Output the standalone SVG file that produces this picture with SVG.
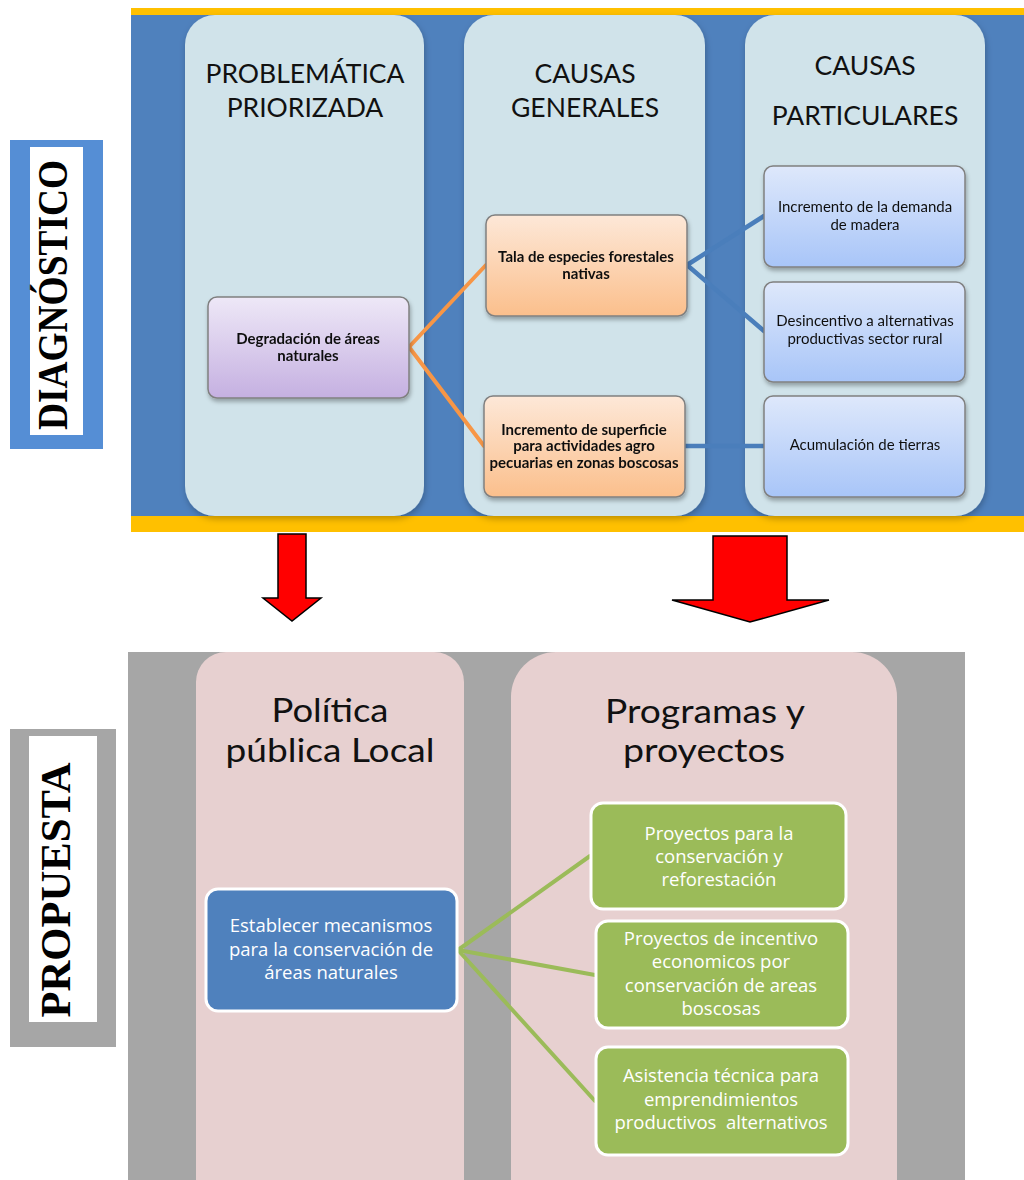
<svg xmlns="http://www.w3.org/2000/svg" width="1024" height="1180" viewBox="0 0 1024 1180">
<defs>
<linearGradient id="gPurple" x1="0" y1="0" x2="0" y2="1"><stop offset="0" stop-color="#EEE8F7"/><stop offset="1" stop-color="#C5B0E1"/></linearGradient>
<linearGradient id="gOrange" x1="0" y1="0" x2="0" y2="1"><stop offset="0" stop-color="#FDE8D8"/><stop offset="1" stop-color="#FBBF8C"/></linearGradient>
<linearGradient id="gBlue" x1="0" y1="0" x2="0" y2="1"><stop offset="0" stop-color="#DEE8FB"/><stop offset="1" stop-color="#A8C5F8"/></linearGradient>
<filter id="sh" x="-10%" y="-10%" width="125%" height="130%"><feDropShadow dx="1" dy="3" stdDeviation="2" flood-color="#000" flood-opacity="0.3"/></filter>
<filter id="shc" x="-10%" y="-5%" width="125%" height="115%"><feDropShadow dx="1" dy="3" stdDeviation="3" flood-color="#000" flood-opacity="0.25"/></filter>
</defs>
<style>
.col{fill:#D0E3EA}
.pcol{fill:#E7D0D0}
.title{font-family:Lato,"Liberation Sans",sans-serif;font-size:26.5px;fill:#111;text-anchor:middle}
.btitle{font-family:Lato,"Liberation Sans",sans-serif;font-size:33px;fill:#111;text-anchor:middle}
.nb{font-family:Lato,"Liberation Sans",sans-serif;font-size:15px;font-weight:bold;fill:#111;text-anchor:middle}
.nr{font-family:Lato,"Liberation Sans",sans-serif;font-size:15px;fill:#111;text-anchor:middle}
.nw{font-family:"Open Sans","Noto Sans",sans-serif;font-size:18.5px;fill:#fff;text-anchor:middle}
.box{stroke:#808080;stroke-width:1.5}
.gbox{fill:#9BBB59;stroke:#fff;stroke-width:3}
.side{font-family:"Liberation Serif","Times New Roman",serif;font-weight:bold;font-size:42px;fill:#000;text-anchor:middle}
.arrow{fill:#FF0000;stroke:#000;stroke-width:1.5}
</style>

<!-- Top panel background -->
<rect x="131" y="8" width="893" height="524" fill="#FFC000"/>
<rect x="131" y="15" width="893" height="501" fill="#4F81BD"/>
<rect class="col" x="185" y="15" width="239" height="501" rx="30" filter="url(#shc)"/>
<rect class="col" x="464" y="15" width="241" height="501" rx="30" filter="url(#shc)"/>
<rect class="col" x="745" y="15" width="240" height="501" rx="30" filter="url(#shc)"/>
<text class="title" x="305" y="83">PROBLEMÁTICA</text>
<text class="title" x="305" y="117">PRIORIZADA</text>
<text class="title" x="585" y="83">CAUSAS</text>
<text class="title" x="585" y="117">GENERALES</text>
<text class="title" x="865" y="75">CAUSAS</text>
<text class="title" x="865" y="125">PARTICULARES</text>

<!-- Side labels -->
<g id="label-diagnostico">
<rect x="10" y="140" width="93" height="309" fill="#558ED5"/>
<rect x="30" y="147" width="53" height="288" fill="#fff"/>
<text class="side" transform="translate(67,295) rotate(-90)" textLength="270" lengthAdjust="spacingAndGlyphs">DIAGNÓSTICO</text>
</g>
<g id="label-propuesta">
<rect x="10" y="729" width="106" height="318" fill="#A6A6A6"/>
<rect x="29" y="736" width="68" height="286" fill="#fff"/>
<text class="side" transform="translate(70,890) rotate(-90)" textLength="255" lengthAdjust="spacingAndGlyphs">PROPUESTA</text>
</g>

<!-- Red arrows -->
<g id="arrow-left"><polygon class="arrow" points="278,534 306,534 306,598 321,598 292,621 263,598 278,598"/></g>
<g id="arrow-right"><polygon class="arrow" points="713,536 787,536 787,600 829,600 750,622 672,600 713,600"/></g>

<!-- Bottom panel background -->
<rect x="128" y="652" width="837" height="528" fill="#A6A6A6"/>
<path class="pcol" d="M196,1180 V682 a30,30 0 0 1 30,-30 H434 a30,30 0 0 1 30,30 V1180 Z"/>
<path class="pcol" d="M511,1180 V697 a45,45 0 0 1 45,-45 H852 a45,45 0 0 1 45,45 V1180 Z"/>
<text class="btitle" x="330" y="722" textLength="117" lengthAdjust="spacingAndGlyphs">Política</text>
<text class="btitle" x="330" y="762" textLength="209" lengthAdjust="spacingAndGlyphs">pública Local</text>
<text class="btitle" x="705" y="723" textLength="200" lengthAdjust="spacingAndGlyphs">Programas y</text>
<text class="btitle" x="704" y="762" textLength="162" lengthAdjust="spacingAndGlyphs">proyectos</text>

<!-- Connectors -->
<g id="connectors" fill="none" stroke-linecap="round">
<g stroke="#F79646" stroke-width="4">
<line x1="409" y1="347" x2="486" y2="265"/>
<line x1="409" y1="347" x2="484" y2="446"/>
</g>
<g stroke="#4A7EBB" stroke-width="4.5">
<line x1="687" y1="265" x2="764" y2="216"/>
<line x1="687" y1="265" x2="764" y2="331"/>
<line x1="685" y1="446" x2="764" y2="446"/>
</g>
<g stroke="#9BBB59" stroke-width="4">
<line x1="458" y1="950" x2="590" y2="856"/>
<line x1="458" y1="950" x2="595" y2="975"/>
<line x1="458" y1="950" x2="595" y2="1101"/>
</g>
</g>

<!-- Top nodes -->
<g id="n-degradacion" filter="url(#sh)">
<rect class="box" x="208" y="297" width="201" height="101" rx="9" fill="url(#gPurple)"/>
<text class="nb" x="308" y="344">Degradación de áreas</text>
<text class="nb" x="308" y="361">naturales</text>
</g>
<g id="n-tala" filter="url(#sh)">
<rect class="box" x="486" y="215" width="201" height="101" rx="9" fill="url(#gOrange)"/>
<text class="nb" x="586" y="262">Tala de especies forestales</text>
<text class="nb" x="586" y="279">nativas</text>
</g>
<g id="n-superficie" filter="url(#sh)">
<rect class="box" x="484" y="396" width="201" height="101" rx="9" fill="url(#gOrange)"/>
<text class="nb" x="584" y="435">Incremento de superficie</text>
<text class="nb" x="584" y="451">para actividades agro</text>
<text class="nb" x="584" y="468">pecuarias en zonas boscosas</text>
</g>
<g id="n-demanda" filter="url(#sh)">
<rect class="box" x="764" y="166" width="201" height="101" rx="9" fill="url(#gBlue)"/>
<text class="nr" x="865" y="212">Incremento de la demanda</text>
<text class="nr" x="865" y="230">de madera</text>
</g>
<g id="n-desincentivo" filter="url(#sh)">
<rect class="box" x="764" y="282" width="201" height="100" rx="9" fill="url(#gBlue)"/>
<text class="nr" x="865" y="326">Desincentivo a alternativas</text>
<text class="nr" x="865" y="344">productivas sector rural</text>
</g>
<g id="n-acumulacion" filter="url(#sh)">
<rect class="box" x="764" y="396" width="201" height="101" rx="9" fill="url(#gBlue)"/>
<text class="nr" x="865" y="450">Acumulación de tierras</text>
</g>

<!-- Bottom nodes -->
<g id="n-establecer">
<rect x="206" y="889" width="251" height="122" rx="12" fill="#4F81BD" stroke="#fff" stroke-width="3"/>
<text class="nw" x="331" y="932">Establecer mecanismos</text>
<text class="nw" x="331" y="956">para la conservación de</text>
<text class="nw" x="331" y="979">áreas naturales</text>
</g>
<g id="n-proy1">
<rect class="gbox" x="591" y="803" width="255" height="106" rx="12"/>
<text class="nw" x="719" y="840">Proyectos para la</text>
<text class="nw" x="719" y="863">conservación y</text>
<text class="nw" x="719" y="886">reforestación</text>
</g>
<g id="n-proy2">
<rect class="gbox" x="596" y="921" width="252" height="107" rx="12"/>
<text class="nw" x="721" y="945">Proyectos de incentivo</text>
<text class="nw" x="721" y="968">economicos por</text>
<text class="nw" x="721" y="992">conservación de areas</text>
<text class="nw" x="721" y="1015">boscosas</text>
</g>
<g id="n-proy3">
<rect class="gbox" x="596" y="1047" width="252" height="108" rx="12"/>
<text class="nw" x="721" y="1082">Asistencia técnica para</text>
<text class="nw" x="721" y="1106">emprendimientos</text>
<text class="nw" x="721" y="1129" style="white-space:pre">productivos  alternativos</text>
</g>
</svg>
